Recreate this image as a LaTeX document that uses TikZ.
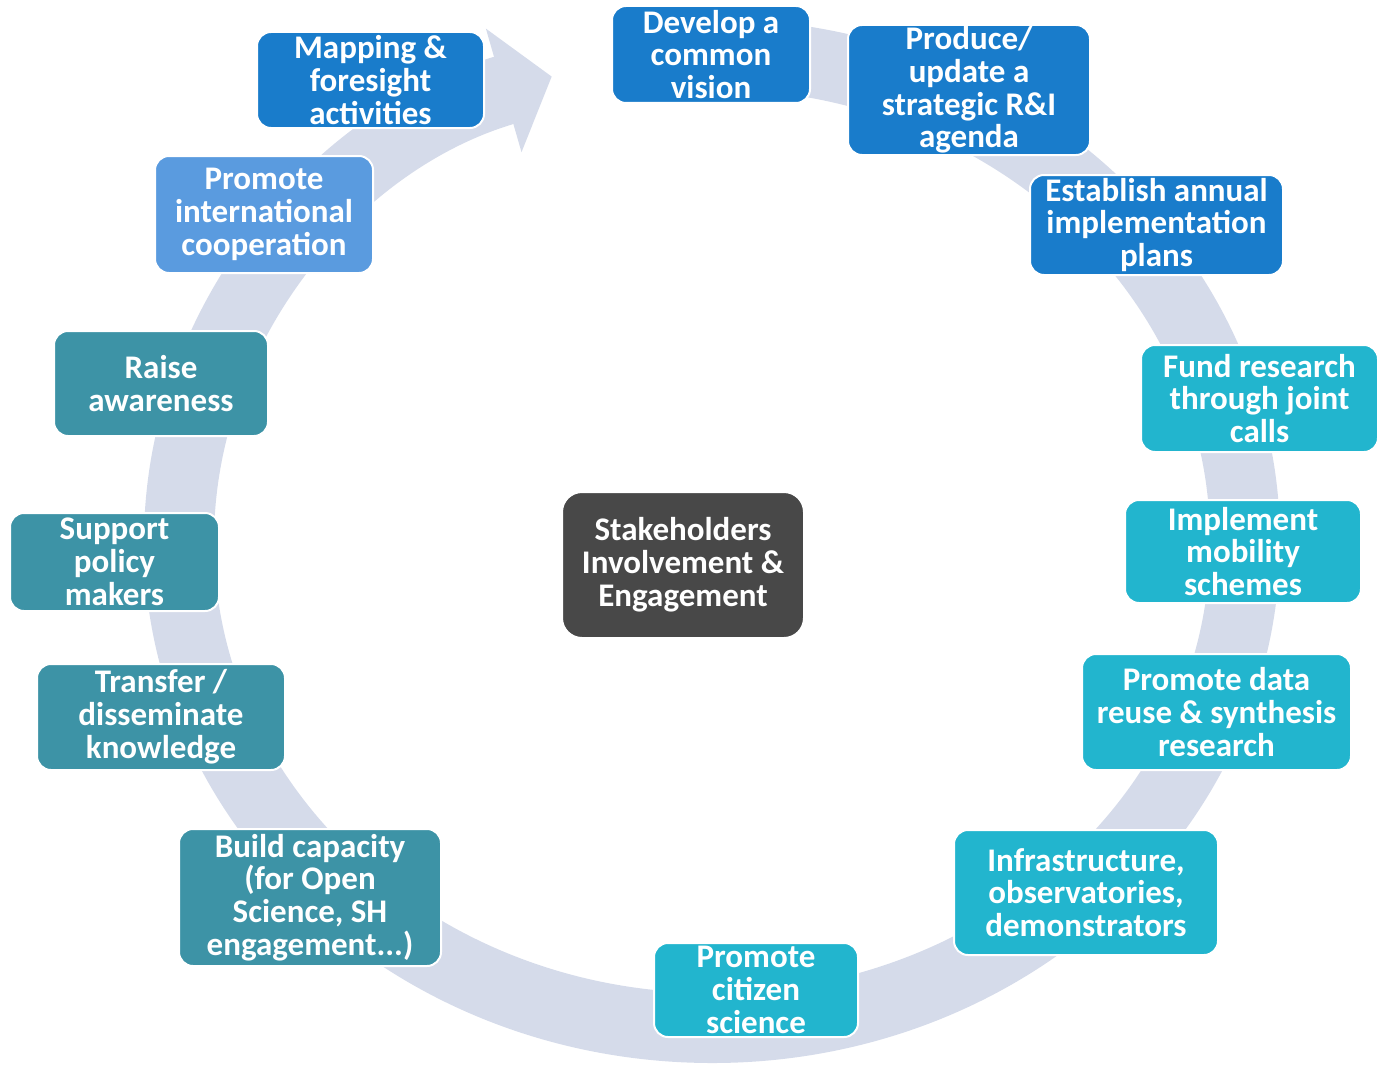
\documentclass[tikz,border=0pt]{standalone}
\usepackage{fontspec}
\setmainfont{Carlito}
\usetikzlibrary{arrows.meta}

\definecolor{ringgray}{HTML}{D5DBEA}
\definecolor{deepblue}{HTML}{197CCB}
\definecolor{skyblue}{HTML}{5A9BDF}
\definecolor{tealblue}{HTML}{3D93A6}
\definecolor{cyanblue}{HTML}{22B5CE}
\definecolor{coregray}{HTML}{484848}
\tikzset{
  actbox/.style={rounded corners=7pt,draw=white,line width=1pt,text=white,
    font=\bfseries\fontsize{16.5}{16.4}\selectfont,align=center,inner sep=0pt},
  plan/.style={actbox,fill=deepblue},
  intl/.style={actbox,fill=skyblue},
  share/.style={actbox,fill=tealblue},
  fund/.style={actbox,fill=cyanblue},
  core/.style={actbox,fill=coregray,rounded corners=10pt},
}

\begin{document}
\begin{tikzpicture}[x=0.5pt,y=-0.5pt,
      ring/.style={draw=ringgray,line width=35pt,
        -{Triangle[width=63pt,length=25pt]}},
      ]
      \useasboundingbox (0,0) rectangle (1380,1065);
      % the cycle
      \draw [ring] (712,541) ++(-88:533 and 487)
        arc [start angle=-88,end angle=252.5,x radius=533,y radius=487];
      % steps, clockwise from the top
      \node [plan,minimum width=99pt,minimum height=48.5pt] (vision) at (711,54.5) {Develop a\\common\\vision};
      \node [plan,minimum width=121pt,minimum height=65pt] (agenda) at (969,90) {Produce/\\update a\\strategic R\&I\\agenda};
      \node [plan,minimum width=126.5pt,minimum height=50pt] (plans) at (1156.5,225) {Establish annual\\implementation\\plans};
      \node [fund,minimum width=118.5pt,minimum height=53.5pt] (calls) at (1259.5,398.5) {Fund research\\through joint\\calls};
      \node [fund,minimum width=118pt,minimum height=51.5pt] (mobility) at (1243,551.5) {Implement\\mobility\\schemes};
      \node [fund,minimum width=134.5pt,minimum height=58pt] (reuse) at (1216.5,712) {Promote data\\reuse \& synthesis\\research};
      \node [fund,minimum width=132pt,minimum height=62.5pt] (infra) at (1086,892.5) {Infrastructure,\\observatories,\\demonstrators};
      \node [fund,minimum width=102pt,minimum height=47pt] (citizen) at (756,990) {Promote\\citizen\\science};
      \node [share,minimum width=131pt,minimum height=68.5pt] (capacity) at (310,897.5) {Build capacity\\(for Open\\Science, SH\\engagement...)};
      \node [share,minimum width=124pt,minimum height=53pt] (knowledge) at (161,717) {Transfer /\\disseminate\\knowledge};
      \node [share,minimum width=104.5pt,minimum height=49pt] (policy) at (114.5,562) {Support\\policy\\makers};
      \node [share,minimum width=107pt,minimum height=52.5pt] (awareness) at (161,383.5) {Raise\\awareness};
      \node [intl,minimum width=109pt,minimum height=58.5pt] (cooperation) at (264,214.5) {Promote\\international\\cooperation};
      \node [plan,minimum width=113.5pt,minimum height=48pt] (mapping) at (370.5,80) {Mapping \&\\foresight\\activities};
      % centre
      \node [core,minimum width=121pt,minimum height=73pt] (stake) at (683,565) {Stakeholders\\Involvement \&\\Engagement};
    \end{tikzpicture}
\end{document}
